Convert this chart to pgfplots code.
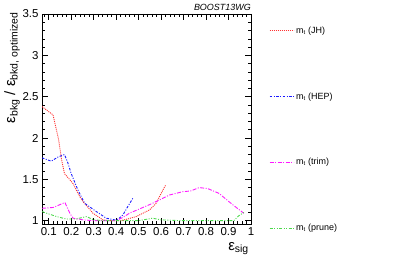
\documentclass[border=0pt]{standalone}
\usepackage{fontspec}
\setmainfont{Liberation Sans}
\usepackage{pgfplots}
\pgfplotsset{compat=1.18}
\definecolor{cred}{rgb}{1,0.2,0.2}
\definecolor{cblue}{rgb}{0.1,0.1,1}
\definecolor{cmag}{rgb}{1,0.1,1}
\definecolor{cgreen}{rgb}{0.3,0.85,0.3}
\begin{document}
\begin{tikzpicture}
\useasboundingbox (0,0) rectangle (407bp,259bp);
\begin{axis}[
  at={(42bp,35bp)}, anchor=south west,
  scale only axis, width=209bp, height=210bp,
  xmin=0.07, xmax=1, ymin=0.96, ymax=3.5,
  axis line style={line width=0.6bp},
  tick align=inside,
  xtick={0.1,0.2,0.3,0.4,0.5,0.6,0.7,0.8,0.9,1},
  xticklabels={0.1,0.2,0.3,0.4,0.5,0.6,0.7,0.8,0.9,1},
  ytick={1,1.5,2,2.5,3,3.5},
  yticklabels={1,1.5,2,2.5,3,3.5},
  minor xtick={0.08,0.12,0.14,0.16,0.18,0.22,0.24,0.26,0.28,0.32,0.34,0.36,0.38,0.42,0.44,0.46,0.48,0.52,0.54,0.56,0.58,0.62,0.64,0.66,0.68,0.72,0.74,0.76,0.78,0.82,0.84,0.86,0.88,0.92,0.94,0.96,0.98},
  minor ytick={1.1,1.2,1.3,1.4,1.6,1.7,1.8,1.9,2.1,2.2,2.3,2.4,2.6,2.7,2.8,2.9,3.1,3.2,3.3,3.4},
  major tick length=6bp, minor tick length=3bp,
  tick style={black, line width=0.5bp},
  ticklabel style={font=\fontsize{11.5}{12}\selectfont},
  xlabel={ε\textsubscript{sig}},
  xlabel style={at={(axis description cs:1,0)}, anchor=base east, inner sep=0pt, xshift=-2bp, yshift=-26bp, font=\fontsize{15}{17}\selectfont},
  ylabel={ε\textsubscript{bkg} / ε\textsubscript{bkd, optimized}},
  ylabel style={at={(axis description cs:-0.129,1.01)}, anchor=base east, inner sep=0pt, font=\fontsize{15}{17}\selectfont},
  title={\itshape BOOST13WG},
  title style={at={(axis description cs:1,1)}, anchor=base east, inner sep=0pt, yshift=-2bp, font=\fontsize{9}{10}\selectfont},
  legend cell align=left,
  legend image code/.code={\draw[#1] (0bp,0bp) -- (24bp,0bp);},
  legend style={draw=none, fill=none, at={(axis description cs:1.086,0.45)}, anchor=west, inner xsep=0pt, row sep=54bp, font=\fontsize{9}{10}\selectfont, /tikz/every even column/.append style={column sep=4bp}},
  every axis plot/.append style={line width=0.9bp},
]
\addplot[cred, dash pattern=on 1bp off 1bp] coordinates {
(0.07,2.38) (0.119,2.28) (0.144,1.98) (0.157,1.74) (0.170,1.57) (0.208,1.45) (0.238,1.29) (0.253,1.23) (0.297,1.09) (0.341,1.01) (0.37,1.0) (0.42,1.0) (0.45,1.02) (0.489,1.05) (0.548,1.13) (0.578,1.21) (0.60,1.33) (0.62,1.43)};
\addlegendentry{m\textsubscript{t} (JH)}
\addplot[cblue, dash pattern=on 2.5bp off 1.5bp on 1bp off 1.5bp] coordinates {
(0.07,1.76) (0.111,1.72) (0.141,1.77) (0.17,1.80) (0.185,1.70) (0.20,1.57) (0.23,1.37) (0.26,1.21) (0.312,1.11) (0.356,1.03) (0.393,1.01) (0.41,1.02) (0.43,1.07) (0.456,1.19) (0.474,1.27)};
\addlegendentry{m\textsubscript{t} (HEP)}
\addplot[cmag, dash pattern=on 4bp off 1.5bp on 1bp off 1.5bp] coordinates {
(0.07,1.15) (0.12,1.16) (0.172,1.22) (0.194,1.09) (0.208,1.03) (0.253,1.01) (0.30,1.0) (0.40,1.0) (0.43,1.04) (0.459,1.09) (0.562,1.21) (0.636,1.31) (0.695,1.35) (0.732,1.36) (0.769,1.40) (0.806,1.39) (0.858,1.33) (0.902,1.23) (0.939,1.15) (0.968,1.09)};
\addlegendentry{m\textsubscript{t} (trim)}
\addplot[cgreen, dash pattern=on 3bp off 1.5bp on 1bp off 1.5bp on 1bp off 1.5bp] coordinates {
(0.07,1.11) (0.135,1.05) (0.179,1.02) (0.22,1.02) (0.268,1.05) (0.30,1.01) (0.35,1.0) (0.5,1.0) (0.562,1.03) (0.60,1.01) (0.7,1.0) (0.924,1.0) (0.946,1.06) (0.968,1.10)};
\addlegendentry{m\textsubscript{t} (prune)}
\end{axis}
\end{tikzpicture}
\end{document}
